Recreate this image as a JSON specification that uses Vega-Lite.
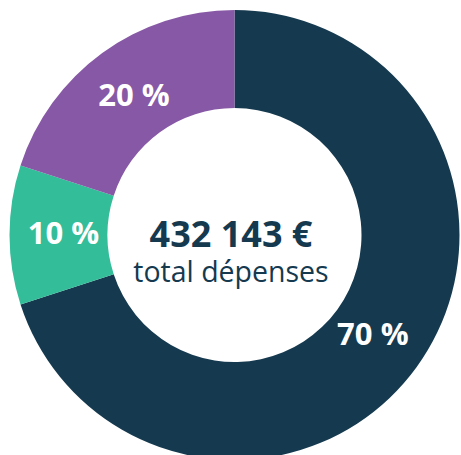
{
  "$schema": "https://vega.github.io/schema/vega-lite/v6.json",
  "width": 453,
  "height": 440,
  "autosize": {"type": "none"},
  "padding": {"left": 8, "top": 15, "right": 0, "bottom": 0},
  "background": "#ffffff",
  "config": {"view": {"stroke": null}, "font": "Open Sans"},
  "datasets": {
    "depenses": [
      {"categorie": "Poste A", "rang": 1, "part": 70, "etiquette": "70 %"},
      {"categorie": "Poste B", "rang": 2, "part": 10, "etiquette": "10 %"},
      {"categorie": "Poste C", "rang": 3, "part": 20, "etiquette": "20 %"}
    ],
    "total": [
      {"montant": "432 143 €", "libelle": "total dépenses"}
    ]
  },
  "layer": [
    {
      "data": {"name": "depenses"},
      "mark": {"type": "arc", "outerRadius": 225, "innerRadius": 127},
      "encoding": {
        "theta": {"field": "part", "type": "quantitative", "stack": true},
        "order": {"field": "rang", "type": "quantitative"},
        "color": {
          "field": "categorie",
          "type": "nominal",
          "scale": {"domain": ["Poste A", "Poste B", "Poste C"], "range": ["#153a4f", "#33bd99", "#8758a5"]},
          "legend": null
        }
      }
    },
    {
      "data": {"name": "depenses"},
      "mark": {"type": "text", "radius": 171, "font": "Open Sans", "fontWeight": "bold", "fontSize": 31, "color": "#ffffff", "align": "center", "baseline": "middle"},
      "encoding": {
        "theta": {"field": "part", "type": "quantitative", "stack": true},
        "order": {"field": "rang", "type": "quantitative"},
        "text": {"field": "etiquette", "type": "nominal"}
      }
    },
    {
      "data": {"name": "total"},
      "mark": {"type": "text", "font": "Open Sans", "fontWeight": "bold", "fontSize": 36, "color": "#153a4f", "align": "center", "baseline": "alphabetic", "dx": -3.5, "dy": 11.7},
      "encoding": {
        "text": {"field": "montant", "type": "nominal"}
      }
    },
    {
      "data": {"name": "total"},
      "mark": {"type": "text", "font": "Open Sans", "fontWeight": "normal", "fontSize": 28.5, "color": "#153a4f", "align": "center", "baseline": "alphabetic", "dx": -3.5, "dy": 46.7},
      "encoding": {
        "text": {"field": "libelle", "type": "nominal"}
      }
    }
  ]
}
